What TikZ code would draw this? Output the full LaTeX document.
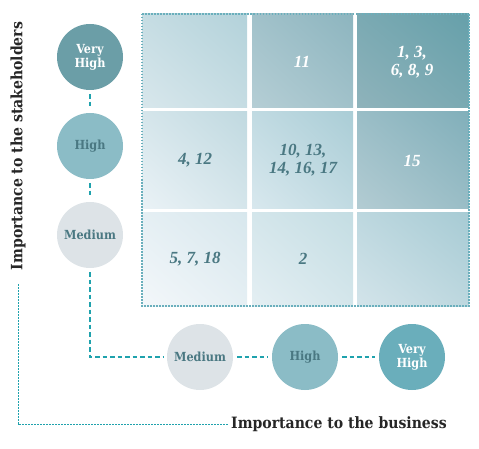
\documentclass[tikz,border=0pt]{standalone}
\usepackage{fontspec}
\setmainfont{DejaVu Serif Condensed}
\newfontfamily\numfont{Liberation Serif}
\usepackage{xcolor}
\usetikzlibrary{shapes,arrows,shadings}

\definecolor{linkteal}{HTML}{1FA2AD}
\definecolor{bordteal}{HTML}{6AAFBC}
\definecolor{darktext}{HTML}{4A7882}
\definecolor{vhgrey}{HTML}{6B9EA7}
\definecolor{hblue}{HTML}{8BBCC6}
\definecolor{mgrey}{HTML}{DDE3E7}
\definecolor{vhteal}{HTML}{6AAEBB}
% cell shades, lower left / upper right
\definecolor{vhmLo}{HTML}{D8E7EC}\definecolor{vhmHi}{HTML}{B3D2DA}
\definecolor{vhhLo}{HTML}{B5CED5}\definecolor{vhhHi}{HTML}{8DB5BF}
\definecolor{vhvLo}{HTML}{8FB3BB}\definecolor{vhvHi}{HTML}{66A0AA}
\definecolor{hmLo}{HTML}{EAF2F6}\definecolor{hmHi}{HTML}{C0D9E0}
\definecolor{hhLo}{HTML}{D8E8EE}\definecolor{hhHi}{HTML}{AACDD6}
\definecolor{hvLo}{HTML}{B3CCD3}\definecolor{hvHi}{HTML}{81AFBA}
\definecolor{mmLo}{HTML}{F3F7FA}\definecolor{mmHi}{HTML}{D7E7ED}
\definecolor{mhLo}{HTML}{E4EFF3}\definecolor{mhHi}{HTML}{C4DDE3}
\definecolor{mvLo}{HTML}{D3E4EA}\definecolor{mvHi}{HTML}{A7CBD4}

\begin{document}
\begin{tikzpicture}[x=1pt, y=-1pt]
	\tikzstyle{level} = [circle, minimum size=66pt, inner sep=0pt, align=center,
	font=\bfseries\fontsize{12.5}{14}\selectfont]
	\tikzstyle{cell} = [align=center, font=\numfont\bfseries\itshape\fontsize{17}{18}\selectfont]
	\tikzstyle{axis} = [inner sep=2pt, font=\bfseries\fontsize{15.6}{18}\selectfont, text=black!85]
	\tikzstyle{line} = [draw=linkteal, line width=1.1pt, dash pattern=on 4.5pt off 3pt,
	shorten <=4pt, shorten >=4pt]
	\tikzstyle{axisline} = [draw=linkteal, line width=0.9pt, dash pattern=on 2pt off 1pt]
	\useasboundingbox (0,0) rectangle (479,449);
	% Grid
	\foreach \xa/\xb/\ya/\yb/\cc in {142/247/14/108/vhm, 252/353/14/108/vhh, 357/469/14/108/vhv,
		142/247/112/209/hm, 252/353/112/209/hh, 357/469/112/209/hv,
		142/247/213/306/mm, 252/353/213/306/mh, 357/469/213/306/mv}
	\shade[lower left=\cc Lo, upper right=\cc Hi, upper left=\cc Lo!50!\cc Hi, lower right=\cc Lo!50!\cc Hi]
	(\xa,\ya) rectangle (\xb,\yb);
	\draw[bordteal, line width=1.3pt, dash pattern=on 1.5pt off 1.5pt] (142,14) rectangle (469,306);
	% Cells
	\node [cell, text=white] (c11) at (302,62) {11};
	\node [cell, text=white] (c1) at (412,62) {1, 3,\\6, 8, 9};
	\node [cell, text=darktext] (c4) at (195,160) {4, 12};
	\node [cell, text=darktext] (c10) at (303,160) {10, 13,\\14, 16, 17};
	\node [cell, text=white] (c15) at (412,161) {15};
	\node [cell, text=darktext] (c5) at (195,259) {5, 7, 18};
	\node [cell, text=darktext] (c2) at (303,259) {2};
	% Place nodes
	\node [level, fill=vhgrey, text=white] (sVH) at (90,57) {Very\\High};
	\node [level, fill=hblue, text=darktext] (sH) at (90,146) {High};
	\node [level, fill=mgrey, text=darktext] (sM) at (90,235) {Medium};
	\node [level, fill=mgrey, text=darktext] (bM) at (200,357) {Medium};
	\node [level, fill=hblue, text=darktext] (bH) at (305,357) {High};
	\node [level, fill=vhteal, text=white] (bVH) at (412,357) {Very\\High};
	\node [axis, rotate=90] (stklabel) at (18,146) {Importance to the stakeholders};
	\node [axis, anchor=west] (bizlabel) at (229,424) {Importance to the business};
	% Draw edges
	\path [line] (sVH) -- (sH);
	\path [line] (sH) -- (sM);
	\path [line] (sM) |- (bM);
	\path [line] (bM) -- (bH);
	\path [line] (bH) -- (bVH);
	\path [axisline, shorten <=12pt] (stklabel.west) |- (bizlabel.west);
\end{tikzpicture}
\end{document}
